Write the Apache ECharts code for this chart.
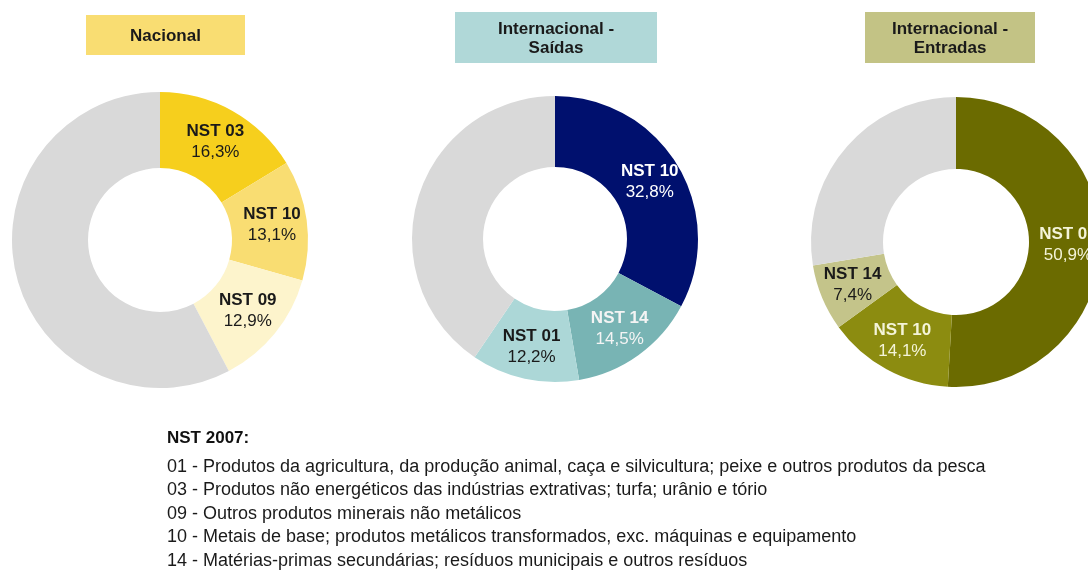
<!DOCTYPE html>
<html>
<head>
<meta charset="utf-8">
<script src="https://cdn.jsdelivr.net/npm/echarts@6/dist/echarts.min.js"></script>
<style>
  html, body { margin: 0; padding: 0; background: #fff; }
  #chart { width: 1088px; height: 570px; }
</style>
</head>
<body>
<div id="chart"></div>
<script>
// dados (% do total transportado)
const nacionalNames = ['NST 03', 'NST 10', 'NST 09', 'Outros']
const nacionalValues = [16.3, 13.1, 12.9, 57.7]

const saidasNames = ['NST 10', 'NST 14', 'NST 01', 'Outros']
const saidasValues = [32.8, 14.5, 12.2, 40.5]

const entradasNames = ['NST 01', 'NST 10', 'NST 14', 'Outros']
const entradasValues = [50.9, 14.1, 7.4, 27.6]

const titles = ['Nacional', 'Internacional -\nSaídas', 'Internacional -\nEntradas']

const legendTitle = 'NST 2007:'
const legendLines = [
    '01 - Produtos da agricultura, da produção animal, caça e silvicultura; peixe e outros produtos da pesca',
    '03 - Produtos não energéticos das indústrias extrativas; turfa; urânio e tório',
    '09 - Outros produtos minerais não metálicos',
    '10 - Metais de base; produtos metálicos transformados, exc. máquinas e equipamento',
    '14 - Matérias-primas secundárias; resíduos municipais e outros resíduos'
]

const FONT = '"Liberation Sans", Arial, sans-serif'
const GREY = '#d9d9d9'

// cores e texto das etiquetas por anel
const rings = [
    {
        names: nacionalNames, values: nacionalValues,
        center: [160, 240], radius: [72, 148],
        colors: ['#f6cf1d', '#f9dd72', '#fdf4cc', GREY],
        textColors: ['#1a1a1a', '#1a1a1a', '#1a1a1a'],
        box: { x: 86, y: 15, w: 159, h: 40, fill: '#f9dd72' }
    },
    {
        names: saidasNames, values: saidasValues,
        center: [555, 239], radius: [72, 143],
        colors: ['#00106e', '#78b4b4', '#acd7d7', GREY],
        textColors: ['#ffffff', '#f4f4f4', '#1a1a1a'],
        box: { x: 455, y: 12, w: 202, h: 51, fill: '#b0d8d8' }
    },
    {
        names: entradasNames, values: entradasValues,
        center: [956, 242], radius: [73, 145],
        colors: ['#6b6b00', '#8c8c10', '#c4c48a', GREY],
        textColors: ['#f4f4d8', '#f4f4d8', '#1a1a1a'],
        box: { x: 865, y: 12, w: 170, h: 51, fill: '#c3c385' }
    }
]

const fmt = v => String(v).replace('.', ',') + '%'

const series = rings.map(r => ({
    type: 'pie',
    center: r.center,
    radius: r.radius,
    startAngle: 90,
    clockwise: true,
    avoidLabelOverlap: false,
    silent: true,
    emphasis: { disabled: true },
    labelLine: { show: false },
    data: r.values.map((v, i) => ({
        name: r.names[i],
        value: v,
        itemStyle: { color: r.colors[i], borderWidth: 0 },
        label: {
            show: i < 3,
            position: 'inside',
            color: r.textColors[i] || '#1a1a1a',
            fontFamily: FONT,
            lineHeight: 21,
            formatter: p => '{n|' + p.name + '}\n{v|' + fmt(p.value) + '}',
            rich: {
                n: { fontSize: 17, fontWeight: 'bold', fontFamily: FONT, lineHeight: 21, color: r.textColors[i] },
                v: { fontSize: 17, fontFamily: FONT, lineHeight: 21, color: r.textColors[i] }
            }
        }
    }))
}))

const graphic = []
rings.forEach((r, i) => {
    graphic.push({
        type: 'rect',
        shape: { x: r.box.x, y: r.box.y, width: r.box.w, height: r.box.h },
        style: { fill: r.box.fill }
    })
    graphic.push({
        type: 'text',
        x: r.box.x + r.box.w / 2,
        y: r.box.y + r.box.h / 2 + 1,
        style: {
            text: titles[i],
            fill: '#1a1a1a',
            font: 'bold 17px ' + FONT,
            lineHeight: 19,
            align: 'center',
            verticalAlign: 'middle'
        }
    })
})

graphic.push({
    type: 'text', x: 167, y: 438,
    style: { text: legendTitle, fill: '#111', font: 'bold 17px ' + FONT, verticalAlign: 'middle' }
})
legendLines.forEach((t, i) => {
    graphic.push({
        type: 'text', x: 167, y: 467 + i * 23.5,
        style: { text: t, fill: '#1a1a1a', font: '18px ' + FONT, verticalAlign: 'middle' }
    })
})

const chart = echarts.init(document.getElementById('chart'), null, { renderer: 'canvas' })
chart.setOption({
    animation: false,
    backgroundColor: '#fff',
    series: series,
    graphic: graphic
})
</script>
</body>
</html>
